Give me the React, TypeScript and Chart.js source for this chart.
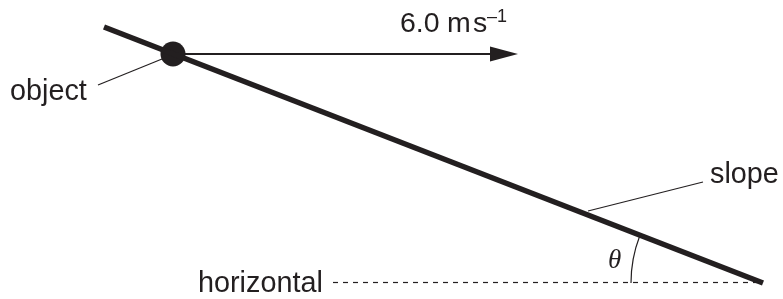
import React, { useEffect, useRef } from "react";
import { Chart, registerables } from "chart.js";

Chart.register(...registerables);

const INK = "#231f20";

// Geometry in picture coordinates (x to the right, y downward)
const slopeLine = [
  { x: 104, y: 27 },
  { x: 763, y: 283 },
];
const horizontalLine = [
  { x: 333, y: 282.5 },
  { x: 758, y: 282.5 },
];
const objectLeader = [
  { x: 98, y: 85 },
  { x: 162, y: 59 },
];
const slopeLeader = [
  { x: 588, y: 211 },
  { x: 703, y: 182 },
];
const velocityArrow = [
  { x: 173, y: 54 },
  { x: 494, y: 54 },
];
const arrowHead = { tipX: 518, baseX: 490, y: 54, halfWidth: 7.5 };
const objectBall = [{ x: 173, y: 54 }];
const angleArc = { cx: 762, cy: 283, r: 131, fromDeg: 180, toDeg: 201 };

const SANS = "'Liberation Sans', Arial, sans-serif";
const textLabels = [
  { text: "object", x: 10, y: 100, size: 28.8, font: SANS, style: "" },
  { text: "slope", x: 710, y: 183, size: 28.8, font: SANS, style: "" },
  { text: "horizontal", x: 198, y: 292, size: 28.8, font: SANS, style: "" },
  { text: "6.0", x: 400, y: 32, size: 28.5, font: SANS, style: "" },
  { text: "m", x: 447, y: 32, size: 28.5, font: SANS, style: "" },
  { text: "s", x: 473, y: 32, size: 28.5, font: SANS, style: "" },
  { text: "\u20131", x: 487, y: 22, size: 18, font: SANS, style: "" },
  { text: "\u03b8", x: 608, y: 268, size: 27, font: "'Liberation Serif', 'Times New Roman', serif", style: "italic " },
];

const W = 783;
const H = 299;

const diagramPlugin = {
  id: "diagramExtras",
  afterDatasetsDraw(chart: any) {
    const { ctx, scales } = chart;
    const sx = (v: number) => scales.x.getPixelForValue(v);
    const sy = (v: number) => scales.y.getPixelForValue(v);
    ctx.save();
    // arrow head
    ctx.fillStyle = INK;
    ctx.beginPath();
    ctx.moveTo(sx(arrowHead.tipX), sy(arrowHead.y));
    ctx.lineTo(sx(arrowHead.baseX), sy(arrowHead.y - arrowHead.halfWidth));
    ctx.lineTo(sx(arrowHead.baseX), sy(arrowHead.y + arrowHead.halfWidth));
    ctx.closePath();
    ctx.fill();
    // angle arc
    const pxPerUnit = Math.abs(sx(1) - sx(0));
    ctx.strokeStyle = INK;
    ctx.lineWidth = 1.2;
    ctx.beginPath();
    ctx.arc(
      sx(angleArc.cx),
      sy(angleArc.cy),
      angleArc.r * pxPerUnit,
      (angleArc.fromDeg * Math.PI) / 180,
      (angleArc.toDeg * Math.PI) / 180
    );
    ctx.stroke();
    // texts
    ctx.fillStyle = INK;
    ctx.textBaseline = "alphabetic";
    ctx.textAlign = "left";
    for (const t of textLabels) {
      ctx.font = `${t.style}${t.size}px ${t.font}`;
      ctx.fillText(t.text, sx(t.x), sy(t.y));
    }
    ctx.restore();
  },
};

export default function App() {
  const ref = useRef<HTMLCanvasElement | null>(null);
  useEffect(() => {
    if (!ref.current) return;
    const lineDs = (data: any[], width: number, dash: number[] = []) => ({
      type: "line" as const,
      data,
      showLine: true,
      borderColor: INK,
      borderWidth: width,
      borderDash: dash,
      pointRadius: 0,
      fill: false,
      tension: 0,
      borderCapStyle: "butt" as const,
      clip: false as any,
    });
    const chart = new Chart(ref.current, {
      type: "scatter",
      data: {
        datasets: [
          lineDs(horizontalLine, 1.2, [5, 5]),
          lineDs(objectLeader, 1.2),
          lineDs(slopeLeader, 1.2),
          lineDs(velocityArrow, 2),
          lineDs(slopeLine, 5.5),
          {
            type: "scatter" as const,
            data: objectBall,
            pointRadius: 12.5,
            pointBackgroundColor: INK,
            pointBorderWidth: 0,
            borderColor: INK,
            clip: false as any,
          },
        ] as any,
      },
      options: {
        animation: false,
        responsive: false,
        maintainAspectRatio: false,
        layout: { padding: 0, autoPadding: false },
        plugins: { legend: { display: false }, tooltip: { enabled: false } },
        events: [],
        scales: {
          x: { type: "linear", min: 0, max: W, display: false },
          y: { type: "linear", min: 0, max: H, reverse: true, display: false },
        },
      },
      plugins: [diagramPlugin],
    });
    return () => chart.destroy();
  }, []);
  return (
    <div style={{ position: "fixed", left: 0, top: 0, width: W, height: H, background: "#fff" }}>
      <canvas ref={ref} width={W} height={H} style={{ display: "block" }} />
    </div>
  );
}
